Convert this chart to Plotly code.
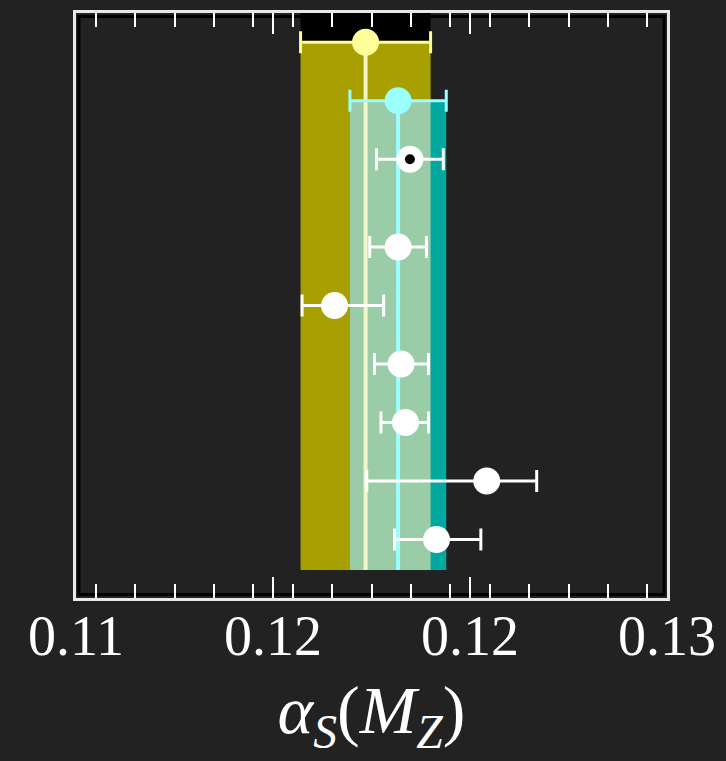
import plotly.graph_objects as go

# ---- data ----
rows_y = [9.5, 8.5, 7.5, 6, 5, 4, 3, 2, 1]
values = [0.1198, 0.1209, 0.1213, 0.1209, 0.11875, 0.1210, 0.12115, 0.1239, 0.1222]
err_minus = [0.0022, 0.00163, 0.00113, 0.00096, 0.0011, 0.0009, 0.00083, 0.00406, 0.00142]
err_plus = [0.0022, 0.00163, 0.00113, 0.00096, 0.00166, 0.00093, 0.00078, 0.00169, 0.0015]
band_bottom = 0.48
x_range = [0.11, 0.13]

BG = "#222222"
YELLOW_BAND = "#a89f00"
OVERLAP = "#9bcca8"
TEAL = "#00a8a0"
YELLOW_PT = "#ffff99"
YELLOW_LINE = "#f2f5c8"
CYAN_PT = "#99ffff"
FRAME = "#e8e8e8"

fig = go.Figure()

# averages (first two entries) define the bands
y_lo, y_hi = values[0] - err_minus[0], values[0] + err_plus[0]
c_lo, c_hi = values[1] - err_minus[1], values[1] + err_plus[1]

shapes = []
shapes.append(dict(type="rect", xref="x", yref="y", x0=y_lo, x1=y_hi, y0=rows_y[0], y1=10,
                   fillcolor="black", line_width=0, layer="below"))
shapes.append(dict(type="rect", xref="x", yref="y", x0=y_lo, x1=y_hi, y0=band_bottom, y1=rows_y[0],
                   fillcolor=YELLOW_BAND, line_width=0, layer="below"))
shapes.append(dict(type="rect", xref="x", yref="y", x0=c_lo, x1=c_hi, y0=band_bottom, y1=rows_y[1],
                   fillcolor=TEAL, line_width=0, layer="below"))
shapes.append(dict(type="rect", xref="x", yref="y", x0=max(y_lo, c_lo), x1=min(y_hi, c_hi),
                   y0=band_bottom, y1=rows_y[1], fillcolor=OVERLAP, line_width=0, layer="below"))
shapes.append(dict(type="rect", xref="paper", yref="paper", x0=0.005, x1=0.995, y0=0.006, y1=0.994,
                   fillcolor="rgba(0,0,0,0)", line=dict(color="black", width=3), layer="below"))

fig.add_trace(go.Scatter(x=[values[0], values[0]], y=[band_bottom, rows_y[0]], mode="lines",
                         line=dict(color=YELLOW_LINE, width=4), hoverinfo="skip", showlegend=False))
fig.add_trace(go.Scatter(x=[values[1], values[1]], y=[band_bottom, rows_y[1]], mode="lines",
                         line=dict(color=CYAN_PT, width=4), hoverinfo="skip", showlegend=False))

colors = [YELLOW_PT, CYAN_PT] + ["#ffffff"] * (len(values) - 2)
for i in range(len(values)):
    fig.add_trace(go.Scatter(
        x=[values[i]], y=[rows_y[i]], mode="markers",
        marker=dict(size=27, color=colors[i], line=dict(width=0)),
        error_x=dict(type="data", symmetric=False, array=[err_plus[i]], arrayminus=[err_minus[i]],
                     color=colors[i], thickness=3, width=11),
        showlegend=False))

fig.add_trace(go.Scatter(x=[values[2]], y=[rows_y[2]], mode="markers",
                         marker=dict(size=10, color="black"), showlegend=False))

fig.update_layout(
    width=726, height=761,
    paper_bgcolor=BG, plot_bgcolor=BG,
    margin=dict(l=76, r=58, t=10, b=163),
    shapes=shapes,
    xaxis=dict(
        range=x_range, tick0=0.11, dtick=0.02 / 3, tickformat=".2f",
        ticks="inside", ticklen=21, tickwidth=2, tickcolor="white",
        showline=True, linecolor=FRAME, linewidth=3, mirror="ticks",
        showgrid=False, zeroline=False,
        minor=dict(dtick=0.02 / 15, ticks="inside", ticklen=14, tickwidth=2, tickcolor="white",
                   showgrid=False),
        tickfont=dict(family="Liberation Serif", size=56, color="white"),
        ticklabelstandoff=-13,
        title=dict(text="<i>α</i><sub><i>S</i></sub>(<i>M</i><sub><i>Z</i></sub>)",
                   font=dict(family="Liberation Serif", size=68, color="white"), standoff=20),
    ),
    yaxis=dict(
        range=[0, 10], showline=True, linecolor=FRAME, linewidth=3, mirror=True,
        showticklabels=False, ticks="", showgrid=False, zeroline=False,
    ),
)

fig.write_html("out.html", config={"displayModeBar": False},
               post_script="document.body.style.margin='0';document.body.style.background='#222222';")
